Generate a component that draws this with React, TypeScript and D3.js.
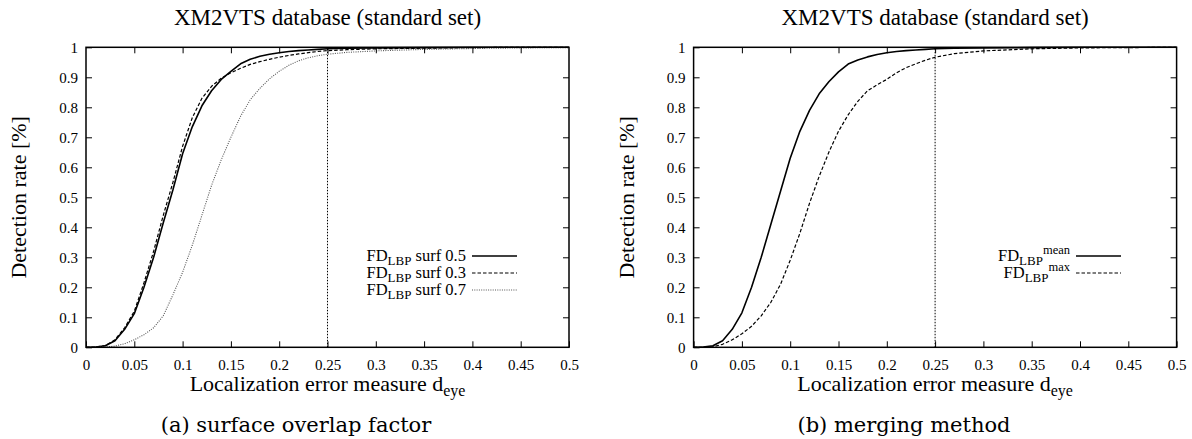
import { useEffect, useRef, useMemo } from 'react';
import * as d3 from 'd3';

// shared x grid (localization error d_eye)
const xGrid = [0, 0.01, 0.02, 0.03, 0.04, 0.05, 0.06, 0.07, 0.08, 0.09, 0.1, 0.11, 0.12, 0.13, 0.14, 0.15, 0.16, 0.17, 0.18, 0.19, 0.2, 0.21, 0.22, 0.23, 0.24, 0.25, 0.27, 0.3, 0.35, 0.4, 0.45, 0.5];

// (a) surface overlap factor
const surf05 = [0, 0.001, 0.005, 0.022, 0.06, 0.112, 0.2, 0.3, 0.415, 0.525, 0.645, 0.735, 0.805, 0.855, 0.893, 0.92, 0.945, 0.96, 0.97, 0.977, 0.982, 0.986, 0.989, 0.991, 0.993, 0.995, 0.997, 0.998, 0.999, 1, 1, 1];
const surf03 = [0, 0.001, 0.006, 0.025, 0.065, 0.12, 0.215, 0.32, 0.44, 0.55, 0.67, 0.765, 0.83, 0.87, 0.897, 0.915, 0.93, 0.943, 0.952, 0.96, 0.967, 0.973, 0.978, 0.982, 0.986, 0.989, 0.992, 0.995, 0.997, 0.999, 1, 1];
const surf07 = [0, 0, 0.001, 0.004, 0.012, 0.025, 0.042, 0.065, 0.105, 0.175, 0.25, 0.34, 0.44, 0.54, 0.625, 0.7, 0.77, 0.825, 0.863, 0.895, 0.92, 0.94, 0.955, 0.965, 0.972, 0.977, 0.983, 0.988, 0.993, 0.996, 0.998, 0.999];

// (b) merging method
const mergeMean = [0, 0.001, 0.005, 0.022, 0.06, 0.115, 0.2, 0.3, 0.41, 0.52, 0.63, 0.72, 0.79, 0.845, 0.885, 0.918, 0.944, 0.958, 0.968, 0.976, 0.982, 0.986, 0.989, 0.991, 0.993, 0.995, 0.997, 0.998, 0.999, 1, 1, 1];
const mergeMax = [0, 0, 0.002, 0.01, 0.025, 0.045, 0.07, 0.105, 0.15, 0.21, 0.29, 0.38, 0.48, 0.57, 0.65, 0.72, 0.775, 0.82, 0.855, 0.875, 0.893, 0.915, 0.932, 0.945, 0.957, 0.967, 0.979, 0.988, 0.995, 0.998, 0.999, 1];

const xTicks = [0, 0.05, 0.1, 0.15, 0.2, 0.25, 0.3, 0.35, 0.4, 0.45, 0.5];
const yTicks = [0, 0.1, 0.2, 0.3, 0.4, 0.5, 0.6, 0.7, 0.8, 0.9, 1];
const markerX = 0.25;

const TITLE = 'XM2VTS database (standard set)';
const SERIF = '"Liberation Serif", "Times New Roman", serif';

const STYLES = {
  solid: { width: 1.6, dash: null, color: '#000' },
  dashed: { width: 1.2, dash: '3.5,2', color: '#000' },
  dotted: { width: 1.1, dash: '1,1.3', color: '#555' },
};

type Series = { values: number[]; style: keyof typeof STYLES; label: any };

const Panel = ({ left, right, caption, captionX, series, legendEnd }: any) => {
  const top = 47.3;
  const bottom = 347.3;
  const axesRef = useRef<SVGGElement>(null);

  const xScale = useMemo(() => d3.scaleLinear().domain([0, 0.5]).range([left, right]), [left, right]);
  const yScale = useMemo(() => d3.scaleLinear().domain([0, 1]).range([bottom, top]), []);

  useEffect(() => {
    const g = d3.select(axesRef.current);
    g.selectAll('*').remove();
    const fmt = (d: any) => String(+(+d).toFixed(2));
    const styleAxis = (sel: any, hideText: boolean) => {
      sel.select('.domain').remove();
      sel.selectAll('line').attr('stroke', '#000').attr('stroke-width', 1);
      sel.selectAll('text').attr('font-family', SERIF).attr('font-size', 15).attr('fill', '#000');
      if (hideText) sel.selectAll('text').remove();
    };
    // bottom / top (gnuplot style: inward, mirrored)
    g.append('g').attr('transform', `translate(0,${bottom})`)
      .call(d3.axisBottom(xScale).tickValues(xTicks).tickSize(-6).tickPadding(12).tickFormat(fmt))
      .call((s: any) => styleAxis(s, false));
    g.append('g').attr('transform', `translate(0,${top})`)
      .call(d3.axisTop(xScale).tickValues(xTicks.slice(1, -1)).tickSize(-6))
      .call((s: any) => styleAxis(s, true));
    // left / right
    g.append('g').attr('transform', `translate(${left},0)`)
      .call(d3.axisLeft(yScale).tickValues(yTicks).tickSize(-6).tickPadding(8).tickFormat(fmt))
      .call((s: any) => styleAxis(s, false));
    g.append('g').attr('transform', `translate(${right},0)`)
      .call(d3.axisRight(yScale).tickValues(yTicks.slice(1, -1)).tickSize(-6))
      .call((s: any) => styleAxis(s, true));
  }, [xScale, yScale, left, right]);

  const line = d3.line<number>().x((_, i) => xScale(xGrid[i])).y(d => yScale(d));
  const cx = (left + right) / 2;

  return (
    <g>
      <text x={cx} y={25} textAnchor="middle" fontFamily={SERIF} fontSize={23}>{TITLE}</text>

      {/* marker at 0.25 */}
      <line x1={xScale(markerX)} x2={xScale(markerX)} y1={yScale(0)} y2={yScale(1)}
        stroke="#000" strokeWidth={1} strokeDasharray="1.5,1.5" />

      {series.map((s: Series, i: number) => {
        const st = STYLES[s.style];
        return (
          <path key={i} d={line(s.values) || ''} fill="none" stroke={st.color}
            strokeWidth={st.width} strokeDasharray={st.dash || undefined} strokeLinejoin="round" />
        );
      })}

      <g ref={axesRef} />
      <rect x={left} y={top} width={right - left} height={bottom - top} fill="none" stroke="#000" strokeWidth={1.5} />

      {/* legend */}
      {series.map((s: Series, i: number) => {
        const st = STYLES[s.style];
        const ly = 256 + i * 17;
        return (
          <g key={'lg' + i}>
            <text x={legendEnd} y={ly + 5} textAnchor="end" fontFamily={SERIF} fontSize={16.5}>{s.label}</text>
            <line x1={legendEnd + 6} x2={legendEnd + 51} y1={ly} y2={ly} stroke={st.color}
              strokeWidth={st.width} strokeDasharray={st.dash || undefined} />
          </g>
        );
      })}

      <text x={cx} y={391} textAnchor="middle" fontFamily={SERIF} fontSize={22}>
        Localization error measure d<tspan fontSize={16} dy={5}>eye</tspan>
      </text>
      <text transform={`translate(${left - 60},${(top + bottom) / 2}) rotate(-90)`} textAnchor="middle"
        fontFamily={SERIF} fontSize={22}>Detection rate [%]</text>
      <text x={captionX} y={432} textAnchor="middle" fontFamily='"DejaVu Serif", serif' fontSize={21}>{caption}</text>
    </g>
  );
};

const sub = (t: string) => <tspan fontSize={13} dy={4}>{t}</tspan>;

export default function App() {
  const leftSeries: Series[] = [
    { values: surf05, style: 'solid', label: <>FD{sub('LBP')}<tspan dy={-4}> surf 0.5</tspan></> },
    { values: surf03, style: 'dashed', label: <>FD{sub('LBP')}<tspan dy={-4}> surf 0.3</tspan></> },
    { values: surf07, style: 'dotted', label: <>FD{sub('LBP')}<tspan dy={-4}> surf 0.7</tspan></> },
  ];
  const rightSeries: Series[] = [
    { values: mergeMean, style: 'solid', label: <>FD{sub('LBP')}<tspan fontSize={12.5} dy={-11}>mean</tspan></> },
    { values: mergeMax, style: 'dashed', label: <>FD{sub('LBP')}<tspan fontSize={12.5} dy={-11}>max</tspan></> },
  ];
  return (
    <svg width={1192} height={439} style={{ position: 'absolute', left: 0, top: 0, background: '#fff' }}>
      <Panel left={86} right={569} caption="(a) surface overlap factor" captionX={296} series={leftSeries} legendEnd={466} />
      <Panel left={693.6} right={1176.6} caption="(b) merging method" captionX={904} series={rightSeries} legendEnd={1070} />
    </svg>
  );
}
